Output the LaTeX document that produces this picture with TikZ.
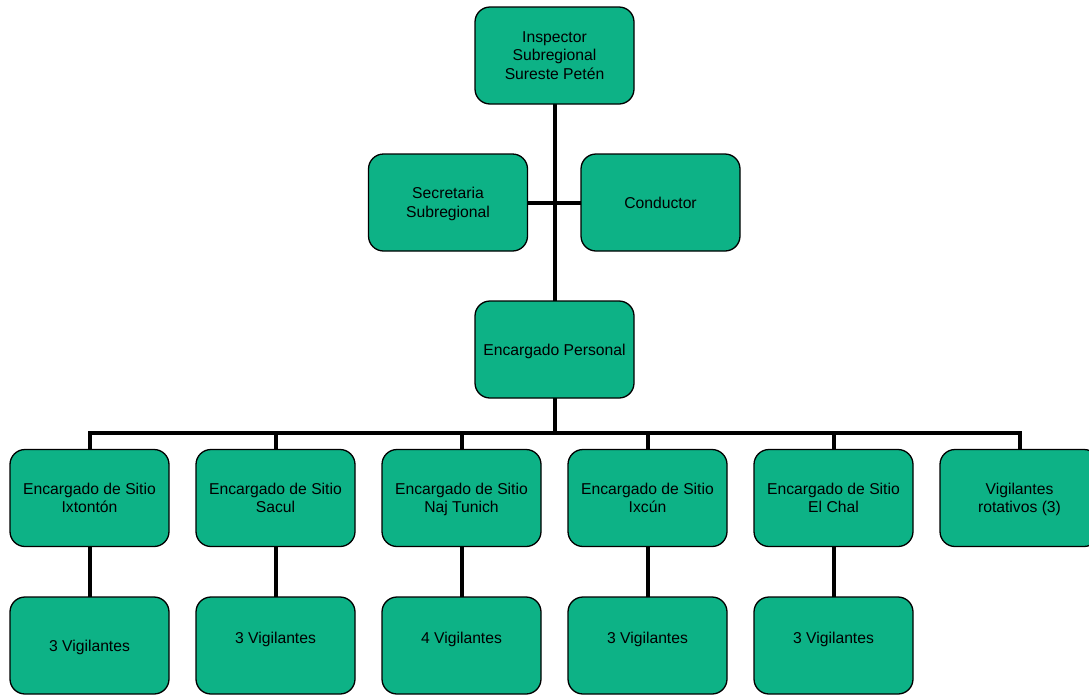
\documentclass[tikz,border=0pt]{standalone}
\usepackage{fontspec}
\setmainfont{Liberation Sans}
\usetikzlibrary{backgrounds}
\definecolor{boxgreen}{RGB}{13,178,134}
\begin{document}
\begin{tikzpicture}[x=1pt, y=1pt,
box/.style={draw=black, line width=1.3pt, fill=boxgreen, rounded corners=15pt, minimum width=159pt, minimum height=97pt, inner sep=0pt, align=center, text depth=-2pt, font=\fontsize{15.7}{18.5}\selectfont},
vigup/.style={text depth=16pt},
wire/.style={line width=4pt, line cap=rect}
]

\def\d{186}
\def\xa{89.5}

\useasboundingbox (0,0) rectangle (1089,-694);
\clip (0,0) rectangle (1089,-694);

%%% Top
\node[box] (insp) at (554.5,-55.5) {Inspector\\Subregional\\Sureste Petén};
\node[box] (secr) at (448,-202.5) {Secretaria\\Subregional};
\node[box] (cond) at (660.5,-202.5) {Conductor};
\node[box] (pers) at (554.5,-349.5) {Encargado Personal};

%%% Sites
\foreach[count=\i] \txt in {Ixtontón, Sacul, Naj Tunich, Ixcún, El Chal}{
	\pgfmathsetmacro{\x}{\xa+(\i-1)*\d}
	\node[box] (site\i) at (\x,-498) {Encargado de Sitio\\\txt};
}
\node[box] (rot) at (\xa+5*\d,-498) {Vigilantes\\rotativos (3)};

%%% Guards
\foreach \i/\n in {1/3, 2/3, 3/4, 4/3, 5/3}{
	\pgfmathsetmacro{\x}{\xa+(\i-1)*\d}
	\ifnum\i=1
		\node[box] (vig\i) at (\x,-645.5) {\n\ Vigilantes};
	\else
		\node[box, vigup] (vig\i) at (\x,-645.5) {\n\ Vigilantes}; \fi
}

%%% Lines
\begin{scope}[on background layer]
\coordinate (bus) at (0,-433);
\draw[wire] (insp) -- (pers);
\draw[wire] (secr) -- (cond);
\draw[wire] (pers.south) -- (pers.south |- bus);
\draw[wire] (site1.north |- bus) -- (rot.north |- bus);
\foreach \n in {site1, site2, site3, site4, site5, rot}{
	\draw[wire] (\n.north) -- (\n.north |- bus);
}
\foreach \i in {1,...,5}{
	\draw[wire] (site\i) -- (vig\i);
}
\end{scope}

\end{tikzpicture}
\end{document}
